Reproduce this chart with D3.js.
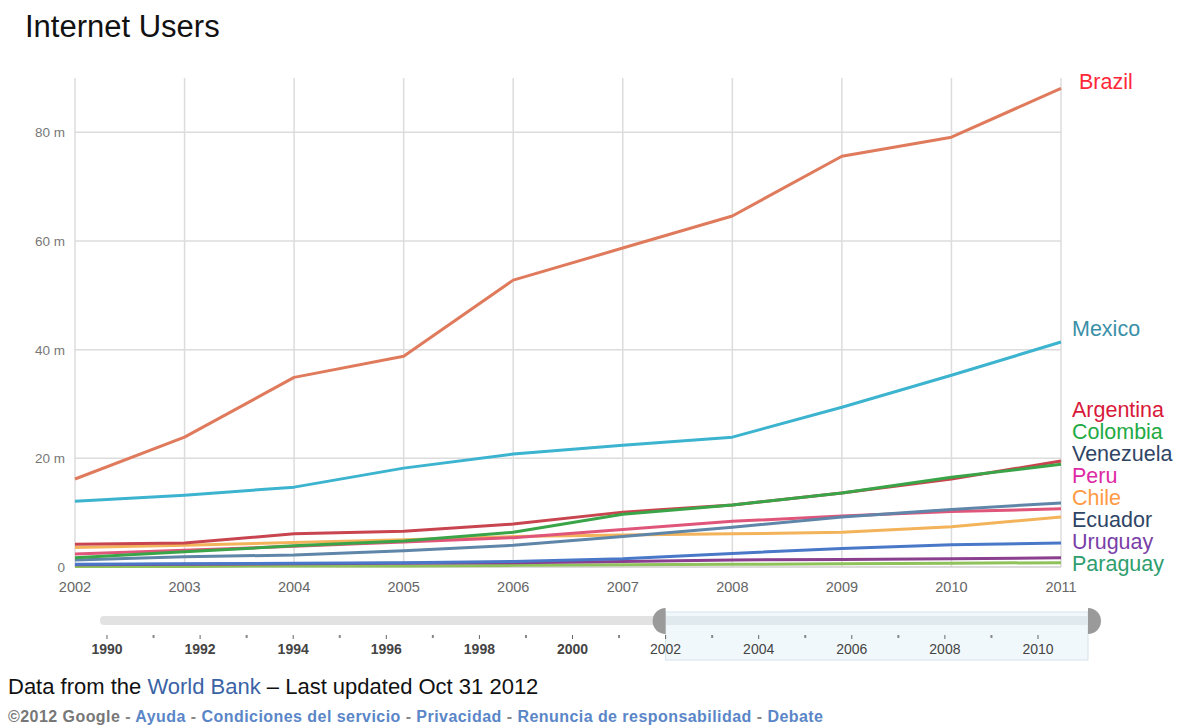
<!DOCTYPE html>
<html>
<head>
<meta charset="utf-8">
<script src="https://cdn.jsdelivr.net/npm/d3@7"></script>
<style>
  html, body { margin: 0; padding: 0; background: #fff; }
  svg { display: block; font-family: "Liberation Sans", Arial, sans-serif; }
</style>
</head>
<body>
<svg id="chart" width="1186" height="727"></svg>
<script>
// ---- data ----
const years = [2002, 2003, 2004, 2005, 2006, 2007, 2008, 2009, 2010, 2011];
const brazil    = [16.2, 23.9, 34.9, 38.8, 52.8, 58.7, 64.6, 75.6, 79.1, 88.1];
const mexico    = [12.1, 13.2, 14.7, 18.2, 20.8, 22.4, 23.9, 29.4, 35.3, 41.4];
const argentina = [4.2, 4.4, 6.1, 6.6, 7.9, 10.1, 11.4, 13.6, 16.2, 19.5];
const colombia  = [1.7, 2.8, 3.9, 4.8, 6.4, 9.7, 11.4, 13.6, 16.5, 18.9];
const venezuela = [1.3, 1.9, 2.2, 3.0, 4.0, 5.6, 7.3, 9.2, 10.6, 11.8];
const peru      = [2.4, 3.1, 3.8, 4.6, 5.4, 6.9, 8.4, 9.4, 10.2, 10.7];
const chile     = [3.6, 4.0, 4.5, 5.0, 5.6, 5.9, 6.1, 6.4, 7.4, 9.2];
const ecuador   = [0.5, 0.6, 0.7, 0.8, 1.0, 1.5, 2.5, 3.4, 4.1, 4.4];
const uruguay   = [0.4, 0.5, 0.6, 0.7, 0.8, 1.0, 1.3, 1.4, 1.5, 1.7];
const paraguay  = [0.1, 0.1, 0.2, 0.2, 0.3, 0.4, 0.5, 0.6, 0.7, 0.8];
const yTicks = [0, 20, 40, 60, 80];
const yTickLabels = ["0", "20 m", "40 m", "60 m", "80 m"];
const sliderYears = [1990, 1992, 1994, 1996, 1998, 2000, 2002, 2004, 2006, 2008, 2010];
const footerLinks = ["Ayuda", "Condiciones del servicio", "Privacidad", "Renuncia de responsabilidad", "Debate"];

const series = [
  { name: "Paraguay",  values: paraguay,  line: "#8fc25a", label: "#2f9e6e", ly: 564 },
  { name: "Uruguay",   values: uruguay,   line: "#8a3f8f", label: "#7a3fa8", ly: 542 },
  { name: "Ecuador",   values: ecuador,   line: "#4a78c8", label: "#2f4566", ly: 520 },
  { name: "Chile",     values: chile,     line: "#f3b35a", label: "#ff9944", ly: 498 },
  { name: "Peru",      values: peru,      line: "#e0557a", label: "#dd2aa5", ly: 476 },
  { name: "Venezuela", values: venezuela, line: "#5f86a8", label: "#2f4566", ly: 454 },
  { name: "Argentina", values: argentina, line: "#c8454f", label: "#d8193a", ly: 410 },
  { name: "Colombia",  values: colombia,  line: "#3aa548", label: "#22aa44", ly: 432 },
  { name: "Mexico",    values: mexico,    line: "#3cb4cf", label: "#3a8fa8", ly: 329 },
  { name: "Brazil",    values: brazil,    line: "#df7b5c", label: "#ff2838", ly: 82 }
];

const svg = d3.select("#chart");

// title
svg.append("text").attr("x", 25).attr("y", 37)
  .attr("font-size", 31).attr("fill", "#111").text("Internet Users");

const x = d3.scaleLinear().domain([2002, 2011]).range([75, 1061]);
const y = d3.scaleLinear().domain([0, 90]).range([567, 78]);

// grid
const g = svg.append("g");
g.selectAll(".vgrid").data(years).enter().append("line")
  .attr("x1", d => x(d)).attr("x2", d => x(d))
  .attr("y1", 78).attr("y2", 567)
  .attr("stroke", "#dcdcdc").attr("stroke-width", 1.5);
g.selectAll(".hgrid").data(yTicks.slice(1)).enter().append("line")
  .attr("x1", 75).attr("x2", 1061)
  .attr("y1", d => y(d)).attr("y2", d => y(d))
  .attr("stroke", "#dcdcdc").attr("stroke-width", 1.5);
g.append("line").attr("x1", 75).attr("x2", 1061).attr("y1", y(0)).attr("y2", y(0))
  .attr("stroke", "#cfcfcf").attr("stroke-width", 1.5);

// y tick labels
g.selectAll(".ylab").data(yTicks).enter().append("text")
  .attr("x", 65).attr("y", d => y(d) + 5)
  .attr("text-anchor", "end").attr("font-size", 13.5).attr("fill", "#777")
  .text((d, i) => yTickLabels[i]);

// x tick labels
g.selectAll(".xlab").data(years).enter().append("text")
  .attr("x", d => x(d))
  .attr("y", 592)
  .attr("text-anchor", "middle")
  .attr("font-size", 14.5).attr("fill", "#666")
  .text(d => d);

// lines
const line = d3.line().x((d, i) => x(years[i])).y(d => y(d));
svg.append("g").selectAll("path").data(series).enter().append("path")
  .attr("d", d => line(d.values))
  .attr("fill", "none").attr("stroke", d => d.line)
  .attr("stroke-width", 3).attr("stroke-linejoin", "round");

// labels
svg.append("g").selectAll("text").data(series).enter().append("text")
  .attr("x", d => d.name === "Brazil" ? 1079 : 1072)
  .attr("y", d => d.ly + 7)
  .attr("font-size", 21.5).attr("fill", d => d.label)
  .text(d => d.name);

// ---- range slider ----
const sx = d3.scaleLinear().domain([1990, 2010]).range([107, 1038]);
const sl = svg.append("g");
sl.append("rect").attr("x", 100).attr("y", 616).attr("width", 990).attr("height", 9)
  .attr("rx", 4).attr("fill", "#e2e2e2");
sl.append("rect").attr("x", sx(2002)).attr("y", 612).attr("width", 1088 - sx(2002)).attr("height", 48)
  .attr("fill", "#f1f8fb").attr("stroke", "#d5e3ea").attr("stroke-width", 1);
sl.append("rect").attr("x", sx(2002)).attr("y", 616).attr("width", 1088 - sx(2002)).attr("height", 9)
  .attr("fill", "#dfe9ee");
// tick marks & dots
sl.selectAll(".mt").data(sliderYears).enter().append("line")
  .attr("x1", d => sx(d)).attr("x2", d => sx(d)).attr("y1", 635).attr("y2", 639)
  .attr("stroke", "#666").attr("stroke-width", 1);
sl.selectAll(".dot").data(sliderYears.slice(0, -1)).enter().append("rect")
  .attr("x", d => sx(d + 1) - 1).attr("y", 635).attr("width", 2).attr("height", 3)
  .attr("fill", "#888");
sl.selectAll(".sl").data(sliderYears).enter().append("text")
  .attr("x", d => sx(d)).attr("y", 654).attr("text-anchor", "middle")
  .attr("font-size", 14).attr("fill", "#444")
  .attr("font-weight", (d) => d < 2002 ? "bold" : "normal")
  .text(d => d);
// handles
const arcL = d3.arc().innerRadius(0).outerRadius(13).startAngle(Math.PI).endAngle(2 * Math.PI);
const arcR = d3.arc().innerRadius(0).outerRadius(13).startAngle(0).endAngle(Math.PI);
sl.append("path").attr("d", arcL).attr("transform", `translate(${sx(2002)},621)`).attr("fill", "#9a9a9a");
sl.append("path").attr("d", arcR).attr("transform", "translate(1088,621)").attr("fill", "#9a9a9a");

// ---- footer ----
const f1 = svg.append("text").attr("x", 8).attr("y", 694).attr("font-size", 22).attr("fill", "#111");
f1.append("tspan").text("Data from the ");
f1.append("tspan").attr("fill", "#3a63a6").text("World Bank");
f1.append("tspan").text(" \u2013 Last updated Oct 31 2012");

const f2 = svg.append("text").attr("x", 8).attr("y", 722).attr("font-size", 16)
  .attr("font-weight", "bold").attr("letter-spacing", 0.45)
  .attr("fill", "#777");
f2.append("tspan").text("\u00a92012 Google");
footerLinks.forEach(t => {
  f2.append("tspan").attr("fill", "#888").text(" - ");
  f2.append("tspan").attr("fill", "#5a86c8").text(t);
});
</script>
</body>
</html>
